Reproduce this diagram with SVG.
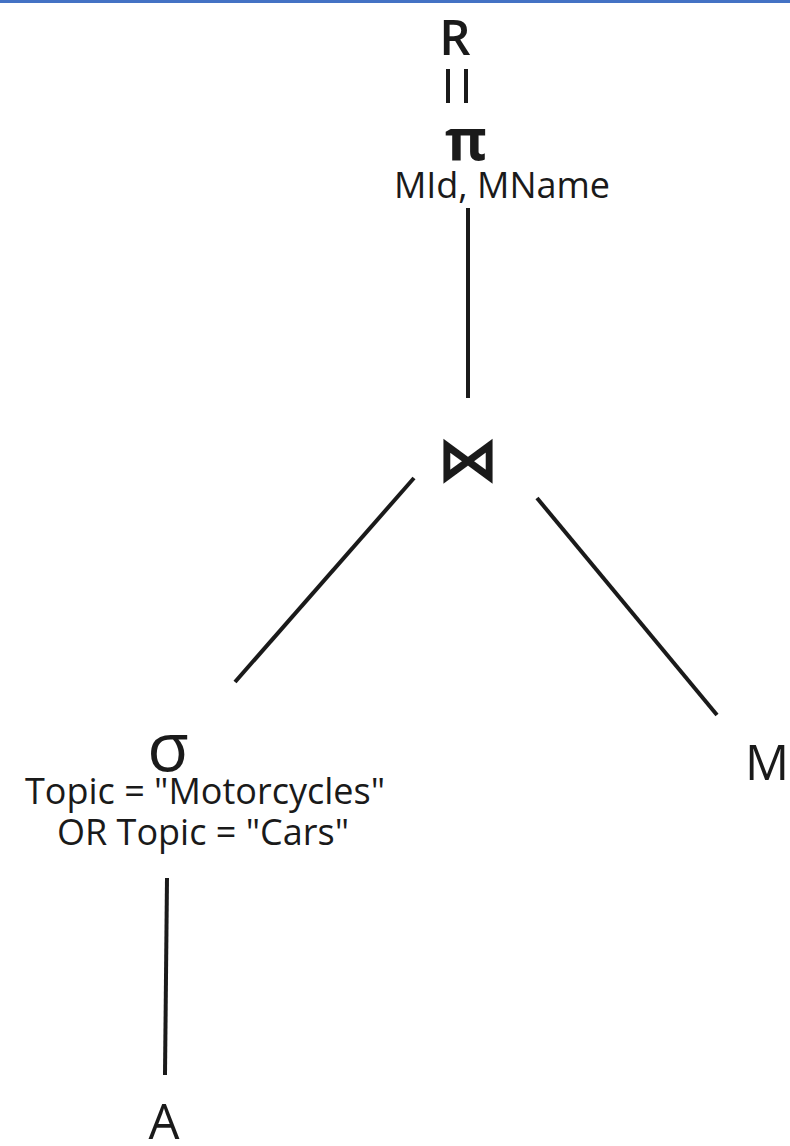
<svg xmlns="http://www.w3.org/2000/svg" width="790" height="1146" viewBox="0 0 790 1146">
<style>
.t{font-family:"Open Sans","Liberation Sans",sans-serif;fill:#1a1a1a}
.big{font-size:49px}
.lbl{font-size:36px}
.c{stroke:#1a1a1a;stroke-width:4;fill:none;stroke-linecap:butt}
</style>
<rect x="0" y="0" width="790" height="3" fill="#4472C4"/>
<g id="connectors">
<line class="c" x1="448" y1="69" x2="448" y2="103" stroke-width="3"/>
<line class="c" x1="466" y1="69" x2="466" y2="103" stroke-width="3"/>
<line class="c" x1="468" y1="208" x2="468" y2="398"/>
<line class="c" x1="414" y1="478" x2="235" y2="682"/>
<line class="c" x1="537" y1="498" x2="717" y2="715"/>
<line class="c" x1="167" y1="878" x2="165" y2="1075"/>
</g>
<g id="R"><text class="t big" x="455" y="55" text-anchor="middle" font-weight="600" font-size="51">R</text></g>
<g id="project">
<text class="t" x="466" y="160" text-anchor="middle" font-size="57" font-family="DejaVu Sans" font-weight="bold">π</text>
<text class="t lbl" x="502" y="198" text-anchor="middle">MId, MName</text>
</g>
<g id="join"><text class="t" x="468" y="480" text-anchor="middle" font-size="60" font-family="DejaVu Sans" font-weight="bold">⋈</text></g>
<g id="select">
<text class="t" x="168" y="771" text-anchor="middle" font-size="68">σ</text>
<text class="t lbl" x="205" y="804" text-anchor="middle">Topic = "Motorcycles"</text>
<text class="t lbl" x="203" y="845" text-anchor="middle">OR Topic = "Cars"</text>
</g>
<g id="M"><text class="t big" x="767" y="780" text-anchor="middle">M</text></g>
<g id="A"><text class="t big" x="164" y="1139" text-anchor="middle">A</text></g>
</svg>
